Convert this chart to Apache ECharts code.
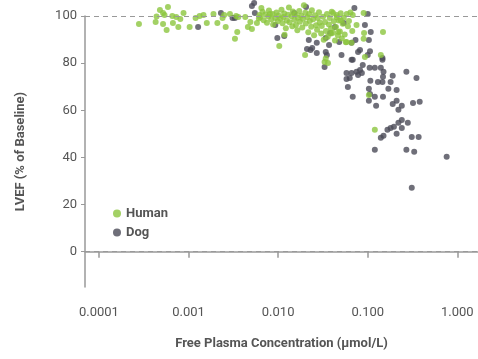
<!DOCTYPE html>
<html>
<head>
<meta charset="utf-8">
<script src="https://cdn.jsdelivr.net/npm/echarts@6/dist/echarts.min.js"></script>
<style>
  html, body { margin: 0; padding: 0; background: #fff; }
  #chart { width: 478px; height: 359px; }
</style>
</head>
<body>
<div id="chart"></div>
<script>
// LVEF vs free plasma concentration, human and dog
const xTicks = [0.0001, 0.001, 0.01, 0.1, 1];
const xTickLabels = ['0.0001', '0.001', '0.010', '0.100', '1.000'];
const yTicks = [0, 20, 40, 60, 80, 100];
const refLines = [0, 100];

const human = [
  [0.00028, 96.6], [0.00043, 97.5], [0.00044, 99.8], [0.00048, 102.5], [0.00052, 101.3],
  [0.00052, 96.6], [0.00054, 100.4], [0.00057, 94.1], [0.00059, 103.8], [0.00066, 100],
  [0.00067, 97], [0.00073, 99.6], [0.00077, 95.3], [0.00081, 98.7], [0.00088, 101.3],
  [0.00103, 95.3], [0.0012, 99.2], [0.00133, 100], [0.0016, 97], [0.00147, 100.4],
  [0.0019, 100.8], [0.0021, 97], [0.0024, 99.2], [0.0025, 100.4], [0.0026, 95.3],
  [0.0029, 100.8], [0.0034, 100], [0.0035, 93.2], [0.0033, 90.3], [0.0036, 99.6],
  [0.0043, 99.6], [0.0046, 95.3], [0.0049, 97.5], [0.0051, 94.5], [0.0058, 97],
  [0.0062, 100.4], [0.0065, 103.4], [0.0061, 98.9], [0.0081, 100.8], [0.0103, 87.3],
  [0.0118, 92],
  [0.0063, 99.5], [0.0067, 101.8], [0.0069, 98.2], [0.0072, 100.6], [0.0075, 97.1],
  [0.0078, 99.8], [0.0079, 102.3], [0.0084, 98.6], [0.0087, 100.9], [0.0088, 96.4],
  [0.0093, 99.1], [0.0096, 101.5], [0.0099, 97.8], [0.0101, 100.2], [0.0106, 98.9],
  [0.0109, 102.7], [0.0112, 96.9], [0.0115, 99.6], [0.0117, 101.1], [0.0122, 94.8],
  [0.0125, 98.1], [0.0129, 100.5], [0.0132, 103.6], [0.0134, 97.3], [0.0141, 99.9],
  [0.0144, 95.7], [0.0146, 101.9], [0.0152, 98.4], [0.0156, 100.7], [0.0158, 96.2],
  [0.0164, 93.9], [0.0166, 99.3], [0.0172, 102.1], [0.0175, 97.6], [0.0181, 100.1],
  [0.0186, 95.1], [0.0189, 98.8], [0.0194, 104.6], [0.0201, 101.4], [0.0204, 96.8],
  [0.0212, 99.5], [0.0217, 93.1], [0.0222, 100.8], [0.0226, 97.9], [0.0234, 95.4],
  [0.0238, 102.4], [0.0246, 98.6], [0.0252, 91.8], [0.0257, 100.3], [0.0265, 96.1],
  [0.0272, 94.2], [0.0277, 99.1], [0.0286, 101.6], [0.0291, 97.2], [0.0302, 92.6],
  [0.0307, 95.8], [0.0317, 99.7], [0.0323, 89.9], [0.0334, 97.5], [0.0342, 93.6],
  [0.0351, 100.9], [0.0358, 91.2], [0.0369, 96.4], [0.0377, 99.2], [0.0389, 94.7],
  [0.0397, 101.8], [0.0409, 92.9], [0.0418, 97.8], [0.0431, 89.6], [0.0442, 95.3],
  [0.0451, 100.4], [0.0465, 91.7], [0.0475, 98.1], [0.0489, 93.4], [0.0499, 101.2],
  [0.0514, 90.5], [0.0526, 96.7], [0.0541, 99.3], [0.0553, 92.1], [0.057, 88.9],
  [0.0583, 100.8], [0.0601, 95.6], [0.0617, 97.9], [0.0641, 101.5], [0.0672, 93.6],
  [0.02, 83.5], [0.033, 80.5], [0.036, 80.1], [0.034, 82], [0.058, 89], [0.066, 88.6],
  [0.068, 100.4], [0.075, 96.2], [0.091, 92.8], [0.09, 90.3], [0.09, 101.3],
  [0.093, 82.6], [0.14, 83.5], [0.148, 93.2], [0.103, 66.5], [0.12, 51.7],
  [0.041, 101.3], [0.045, 99.5], [0.05, 98.2], [0.047, 93.2], [0.039, 92.6]
];

const dog = [
  [0.00128, 95.3], [0.0023, 101.3], [0.0031, 99.2], [0.0033, 99.2], [0.0051, 104.2],
  [0.0054, 105.5], [0.0055, 101.3], [0.0093, 96.2], [0.0098, 90.7], [0.0117, 91.5],
  [0.0151, 101.3], [0.0205, 103.8], [0.021, 86], [0.022, 89.8], [0.023, 85.6],
  [0.024, 86.4], [0.027, 88.6], [0.027, 84.3], [0.034, 90.7], [0.034, 84.7],
  [0.035, 83.5], [0.037, 87.7], [0.033, 78.4], [0.038, 92.8], [0.043, 95.3],
  [0.048, 89], [0.051, 83.5], [0.054, 97], [0.066, 88.6], [0.066, 81.4],
  [0.068, 81.4], [0.071, 103.4], [0.073, 89.8], [0.078, 84.7], [0.082, 85.6],
  [0.088, 79.2], [0.093, 96.2], [0.1, 100.8], [0.1, 83.5], [0.103, 89.8],
  [0.108, 93.2], [0.106, 85], [0.146, 82.2], [0.146, 81.4],
  [0.058, 75.8], [0.066, 75.8], [0.075, 76.3], [0.082, 77.1], [0.086, 75.8],
  [0.078, 75], [0.058, 73.3], [0.063, 73.7], [0.105, 78], [0.12, 78],
  [0.14, 78], [0.15, 76.3], [0.148, 74.2], [0.13, 72], [0.146, 72],
  [0.18, 72], [0.19, 74.6], [0.27, 76.3], [0.35, 73.7], [0.107, 72.5],
  [0.06, 69.9], [0.103, 69.1], [0.106, 66.9], [0.12, 65.7], [0.148, 65.7],
  [0.17, 69.1], [0.21, 68.6], [0.068, 65.7], [0.103, 64], [0.124, 61.9],
  [0.19, 62.7], [0.21, 64], [0.22, 60.2], [0.24, 61.9], [0.32, 63.1], [0.38, 63.6],
  [0.14, 48.3], [0.15, 49.2], [0.166, 51.7], [0.18, 52.5], [0.196, 53],
  [0.22, 54.7], [0.24, 55.9], [0.24, 52.5], [0.21, 50], [0.28, 54.7],
  [0.31, 48.7], [0.37, 48.7], [0.12, 43.2], [0.27, 43.2], [0.33, 42.4],
  [0.76, 40.3], [0.31, 27.1]
];

const FONT = 'Roboto, sans-serif';
const chart = echarts.init(document.getElementById('chart'));

chart.setOption({
  animation: false,
  grid: { left: 85, right: 0, top: 16, bottom: 72, outerBoundsMode: 'none' },
  legend: {
    orient: 'vertical',
    left: 108,
    top: 202,
    itemWidth: 8,
    itemHeight: 8,
    itemGap: 6,
    icon: 'circle',
    textStyle: { color: '#555', fontSize: 13, fontWeight: 'bold', fontFamily: FONT },
    data: ['Human', 'Dog']
  },
  xAxis: {
    type: 'log',
    min: 0.00007,
    max: 1.7,
    name: 'Free Plasma Concentration (µmol/L)',
    nameLocation: 'middle',
    nameGap: 50,
    nameTextStyle: { color: '#555', fontSize: 13, fontWeight: 'bold', fontFamily: FONT },
    axisLine: { lineStyle: { color: '#999', width: 1.5 } },
    axisTick: { length: 6, customValues: xTicks, lineStyle: { color: '#999', width: 1.5 } },
    axisLabel: {
      customValues: xTicks,
      margin: 19,
      color: '#555',
      fontSize: 13,
      fontFamily: FONT,
      formatter: (v) => xTickLabels[xTicks.findIndex(t => Math.abs(Math.log10(t) - Math.log10(v)) < 1e-6)]
    },
    splitLine: { show: false },
    minorTick: { show: false }
  },
  yAxis: {
    type: 'value',
    min: -15,
    max: 100,
    name: 'LVEF (% of Baseline)',
    nameLocation: 'middle',
    nameGap: 58,
    nameTextStyle: { color: '#555', fontSize: 13, fontWeight: 'bold', fontFamily: FONT },
    axisLine: { show: true, lineStyle: { color: '#999', width: 1.5 } },
    axisTick: { show: true, length: 4, customValues: yTicks, lineStyle: { color: '#999' } },
    axisLabel: { customValues: yTicks, margin: 8, color: '#555', fontSize: 13, fontFamily: FONT },
    splitLine: { show: false }
  },
  series: [
    {
      name: 'Human',
      type: 'scatter',
      data: human,
      symbolSize: 6,
      clip: false,
      itemStyle: { color: '#8cc63f' },
      markLine: {
        silent: true,
        symbol: 'none',
        label: { show: false },
        lineStyle: { color: '#999', type: [5, 4], width: 1.2 },
        data: refLines.map(v => ({ yAxis: v }))
      },
      z: 3
    },
    {
      name: 'Dog',
      type: 'scatter',
      data: dog,
      symbolSize: 6,
      clip: false,
      itemStyle: { color: '#4b4b57' },
      z: 2
    }
  ]
});
</script>
</body>
</html>
